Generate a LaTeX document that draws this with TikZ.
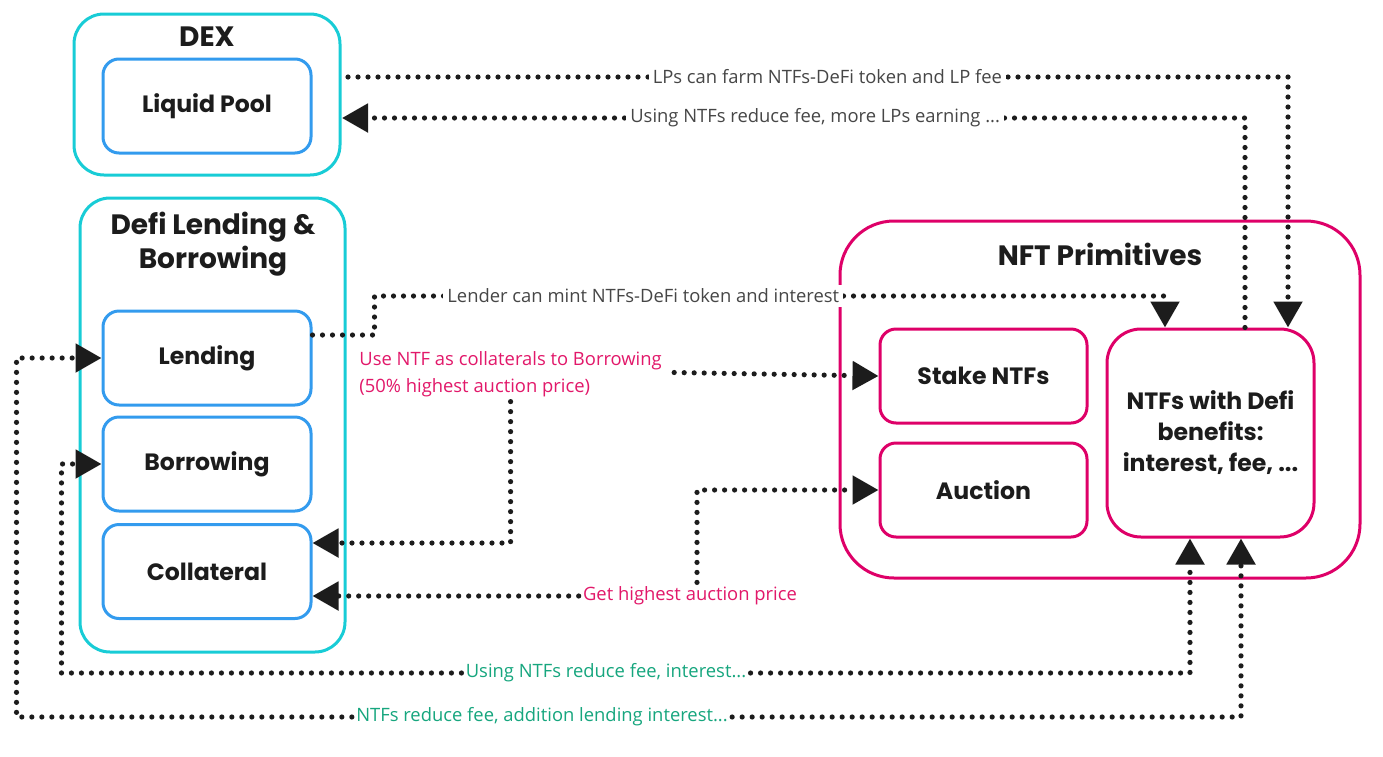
\documentclass[tikz,border=0pt]{standalone}
\usepackage{fontspec}
\setmainfont{Open Sans}
\newfontfamily\headfont{Poppins}
\usetikzlibrary{arrows.meta}
\definecolor{cyanline}{RGB}{24,204,214}
\definecolor{blueline}{RGB}{51,155,238}
\definecolor{pinkline}{RGB}{222,0,104}
\definecolor{pinktext}{RGB}{226,24,106}
\definecolor{greentext}{RGB}{22,166,126}
\definecolor{darkink}{RGB}{28,28,28}
\definecolor{greyink}{RGB}{70,70,70}
\tikzset{
  outerbox/.style={draw=cyanline,line width=1.5pt,rounded corners=15pt},
  innerbox/.style={draw=blueline,line width=1.5pt,rounded corners=8pt,minimum width=104pt,minimum height=47pt,
    font=\headfont\bfseries\fontsize{11.8}{14}\selectfont,text=darkink},
  nftbox/.style={draw=pinkline,line width=1.5pt,rounded corners=8pt,minimum width=103.5pt,minimum height=47pt,
    font=\headfont\bfseries\fontsize{11.8}{14}\selectfont,text=darkink},
  title/.style={font=\headfont\bfseries\fontsize{14}{17}\selectfont,text=darkink,align=center},
  flow/.style={darkink,line width=2.6pt,line cap=round,dash pattern=on 0pt off 5pt,
    -{Triangle[length=13pt,width=14pt]}},
  lbl/.style={font=\fontsize{9.2}{13.5}\selectfont,text=greyink,fill=white,inner sep=2pt},
}
\begin{document}
\begin{tikzpicture}[x=0.5pt,y=-0.5pt]
  \useasboundingbox (0,0) rectangle (1383,756);

  % DEX
  \node[outerbox,minimum width=133pt,minimum height=80.5pt] (dex) at (207,94.5) {};
  \node[title] (dextitle) at (207,37) {DEX};
  \node[innerbox] (pool) at (207,106) {Liquid Pool};

  % lending and borrowing
  \node[outerbox,minimum width=132.5pt,minimum height=227pt] (defi) at (212.5,425) {};
  \node[title] (defititle) at (213,244) {Defi Lending \&\\Borrowing};
  \node[innerbox] (lending) at (207,358) {Lending};
  \node[innerbox] (borrowing) at (207,464) {Borrowing};
  \node[innerbox] (collateral) at (207,571.5) {Collateral};

  % NFT side
  \node[draw=pinkline,line width=1.5pt,rounded corners=27pt,minimum width=260pt,minimum height=178.5pt] (nft) at (1100,399.5) {};
  \node[title] (nfttitle) at (1100,254) {NFT Primitives};
  \node[nftbox] (stake) at (983.5,376) {Stake NTFs};
  \node[nftbox] (auction) at (983.5,490) {Auction};
  \node[nftbox,rounded corners=17pt,minimum height=104pt,align=center,font=\headfont\bfseries\fontsize{11.8}{15.5}\selectfont] (ntfs) at (1210.5,433)
    {NTFs with Defi\\benefits:\\interest, fee, ...};

  % DEX links
  \coordinate (lpout) at (348,77);
  \coordinate (lpin) at (342,118);
  \draw[flow] (lpout) -| node[lbl,pos=0.255] {LPs can farm NTFs-DeFi token and LP fee} ([xshift=38.75pt]ntfs.north);
  \draw[flow] ([xshift=17.25pt]ntfs.north) |- node[lbl,pos=0.738] {Using NTFs reduce fee, more LPs earning ...} (lpin);

  % lending links
  \draw[flow] ([yshift=11.5pt]lending.east) -- ++(31pt,0) -- ++(0,-39)
    -| node[lbl,pos=0.17] {Lender can mint NTFs-DeFi token and interest} ([xshift=-22.75pt]ntfs.north);

  \node[lbl,text=pinktext,align=left,anchor=west] (usecoll) at (355,374.5)
    {Use NTF as collaterals to Borrowing\\(50\% highest auction price)};
  \draw[flow] (usecoll.east) ++(4pt,1pt) -- (stake.west);
  \draw[flow] (usecoll.south) |- ([yshift=14.25pt]collateral.east);

  \node[lbl,text=pinktext] (gethigh) at (690,596) {Get highest auction price};
  \draw[flow] ([xshift=3.5pt]gethigh.north) |- (auction.west);
  \draw[flow] (gethigh.west) -- (gethigh.west -| collateral.east);

  % fee links
  \node[lbl,text=greentext] (feeborrow) at (606,673) {Using NTFs reduce fee, interest...};
  \draw[flow] (feeborrow.east) -| ([xshift=-10.25pt]ntfs.south);
  \draw[flow] (feeborrow.west) -| ([xshift=-20pt]borrowing.west) -- (borrowing.west);

  \node[lbl,text=greentext] (feelend) at (542,717) {NTFs reduce fee, addition lending interest...};
  \draw[flow] (feelend.east) -| ([xshift=15.25pt]ntfs.south);
  \draw[flow] (feelend.west) -| ([xshift=-42.5pt]lending.west) -- (lending.west);
\end{tikzpicture}
\end{document}
